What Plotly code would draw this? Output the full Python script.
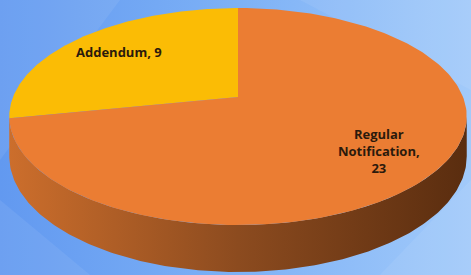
import numpy as np
import plotly.graph_objects as go

# ---- data ----
labels = ["Addendum", "Regular Notification"]
values = [9, 23]
label_text = ["Addendum, 9", "Regular<br>Notification,<br>23"]
top_colors = ["#FBBC05", "#EB7D33"]

# ---- 3D pie geometry (perspective projection of a tilted disc) ----
W, H = 471, 275
CX, CY = 238, 97      # projected centre of the pie
RX, RY = 225, 105     # radii
C = 0.18              # perspective strength
DEPTH = 38.5          # thickness of the pie


def proj(r, phi, z=0.0):
    u = r * np.cos(phi)
    v = r * np.sin(phi)
    w = 1.0 / (1.0 + C * v)
    x = CX + RX * u * w
    y = CY - RY * v * w + DEPTH * w * z
    return x, y


fig = go.Figure()

# background
fig.add_trace(go.Scatter(
    x=[0, W, W, 0, 0], y=[0, 0, H, H, 0], mode="lines", fill="toself",
    line=dict(width=0),
    fillgradient=dict(type="horizontal",
                      colorscale=[[0, "#6299F0"], [0.5, "#7DB1F6"], [1, "#A2CAFA"]]),
    hoverinfo="skip", showlegend=False))

# faint background facets
facets = [
    ([0, 120, 0], [0, 0, 160]),
    ([300, 471, 471], [0, 0, 90]),
    ([0, 90, 0], [200, 275, 275]),
    ([380, 471, 471], [275, 180, 275]),
]
for fx, fy in facets:
    fig.add_trace(go.Scatter(
        x=fx + [fx[0]], y=fy + [fy[0]], mode="lines", fill="toself",
        line=dict(width=0), fillcolor="rgba(255,255,255,0.07)",
        hoverinfo="skip", showlegend=False))

# side wall (visible front half)
phi_l = np.pi + np.arcsin(C)
phi_r = 2 * np.pi - np.arcsin(C)
ph = np.linspace(phi_l, phi_r, 200)
tx, ty = proj(1.0, ph, 0.0)
bx, by = proj(1.0, ph[::-1], 1.0)
fig.add_trace(go.Scatter(
    x=np.concatenate([tx, bx, tx[:1]]), y=np.concatenate([ty, by, ty[:1]]),
    mode="lines", fill="toself", line=dict(width=0),
    fillgradient=dict(type="horizontal",
                      colorscale=[[0, "#CC6E2C"], [0.5, "#8C4B1F"], [1, "#5A2D0F"]]),
    hoverinfo="skip", showlegend=False))

# top faces of slices: start at 12 o'clock and go counter-clockwise
total = float(sum(values))
start = np.pi / 2
annotations = []
for lab, val, col, txt in zip(labels, values, top_colors, label_text):
    span = 2 * np.pi * val / total
    ph = np.linspace(start, start + span, 200)
    ax_, ay_ = proj(1.0, ph)
    xs = np.concatenate([[CX], ax_, [CX]])
    ys = np.concatenate([[CY], ay_, [CY]])
    fig.add_trace(go.Scatter(
        x=xs, y=ys, mode="lines", fill="toself", line=dict(width=0),
        fillcolor=col, name=lab, hoverinfo="skip", showlegend=False))
    mid = start + span / 2
    lx, ly = proj(0.74, mid)
    annotations.append(dict(
        x=lx, y=ly, xref="x", yref="y", text="<b>" + txt + "</b>",
        showarrow=False, align="center",
        font=dict(family="Open Sans", size=13, color="#2B1A0C")))
    start += span

fig.update_layout(
    width=W, height=H, margin=dict(l=0, r=0, t=0, b=0),
    paper_bgcolor="#7DB1F6", plot_bgcolor="#7DB1F6",
    xaxis=dict(range=[0, W], visible=False, fixedrange=True),
    yaxis=dict(range=[H, 0], visible=False, fixedrange=True),
    annotations=annotations, showlegend=False)

fig.write_html("out.html", config={"displayModeBar": False},
               post_script="document.body.style.margin='0px';"
                           "document.body.style.overflow='hidden';")
